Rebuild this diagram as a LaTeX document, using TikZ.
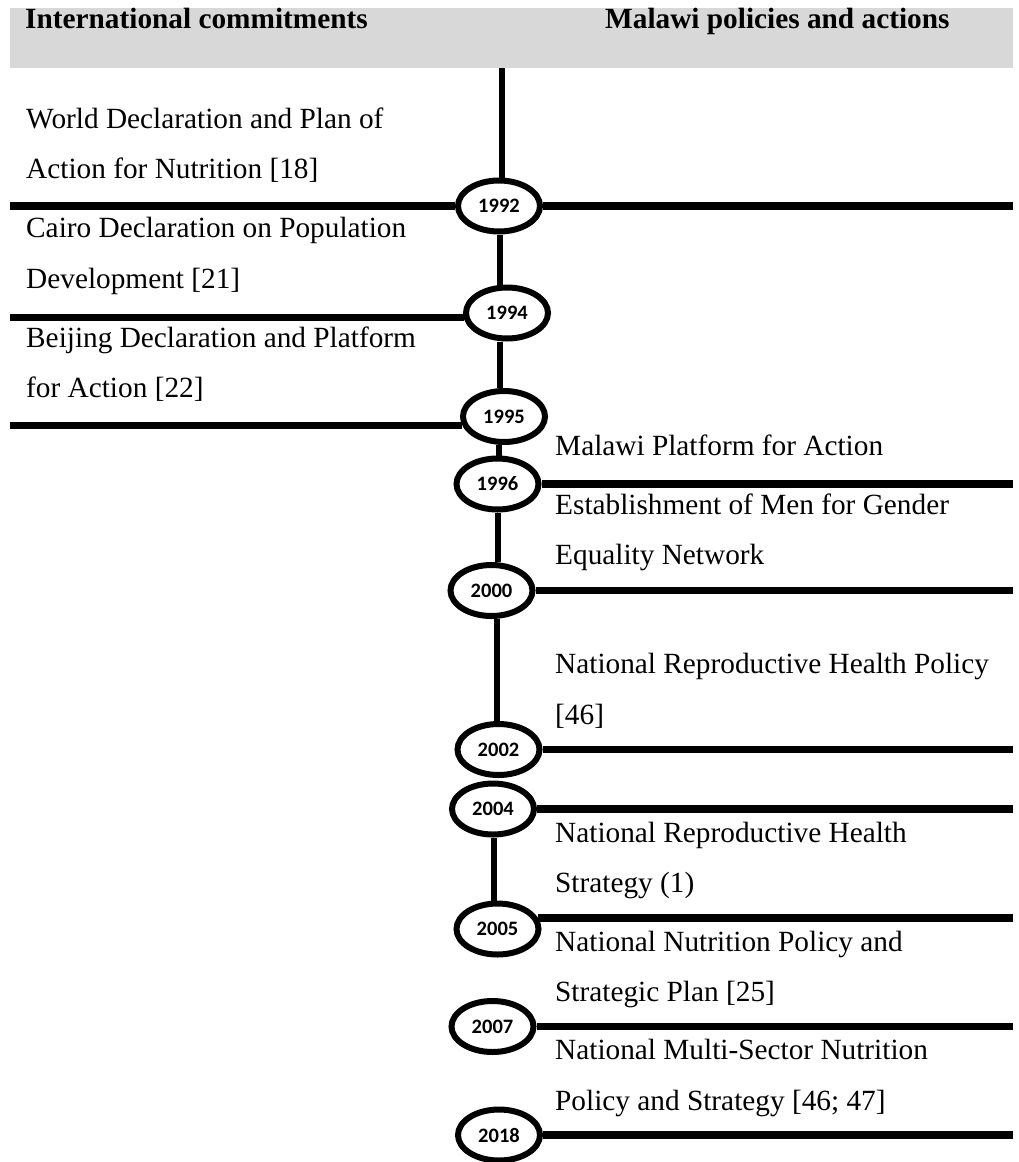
\documentclass[tikz,border=0pt]{standalone}
\usepackage{fontspec}
\setmainfont{Liberation Serif}
\newfontfamily\yearfont{Carlito}
\usetikzlibrary{shapes.geometric}
\definecolor{headgray}{RGB}{216,216,216}
\begin{document}
\begin{tikzpicture}[x=1pt,y=-1pt,
  txt/.style={anchor=base west, inner sep=0pt, font=\fontsize{29.3}{35}\selectfont},
  head/.style={anchor=base west, inner sep=0pt, font=\fontsize{29.3}{35}\selectfont\bfseries},
  yr/.style={ellipse, draw, line width=6pt, minimum width=82pt, minimum height=51pt, inner sep=0pt, fill=white, font=\yearfont\bfseries\fontsize{20.5}{24}\selectfont},
  hline/.style={line width=7.5pt},
  vline/.style={line width=6pt}]
\useasboundingbox (0,0) rectangle (1019,1162);
% header band
\fill[headgray] (10,8) rectangle (1013,68);
\node[head] (hl) at (25,28) {International commitments};
\node[head] (hr) at (605,28) {Malawi policies and actions};
% free ends
\coordinate (lft) at (10,0);
\coordinate (rgt) at (1013,0);
\coordinate (top) at (502,68);
% year ellipses
\node[yr] (e1992) at (499,206) {1992};
\node[yr] (e1994) at (507,313) {1994};
\node[yr] (e1995) at (504,416.5) {1995};
\node[yr] (e1996) at (497.5,484) {1996};
\node[yr] (e2000) at (491.5,590.5) {2000};
\node[yr] (e2002) at (498.5,749.5) {2002};
\node[yr] (e2004) at (493,809) {2004};
\node[yr] (e2005) at (497.5,929) {2005};
\node[yr] (e2007) at (492.5,1026.5) {2007};
\node[yr] (e2018) at (499,1135) {2018};
% vertical connectors
\draw[vline] (top) -- ([xshift=3pt]e1992.north);
\draw[vline] ([xshift=1pt]e1992.south) -- ([xshift=-7pt]e1994.north);
\draw[vline] ([xshift=-7pt]e1994.south) -- ([xshift=-4pt]e1995.north);
\draw[vline] ([xshift=-5pt]e1995.south) -- ([xshift=1.5pt]e1996.north);
\draw[vline] ([xshift=0.5pt]e1996.south) -- ([xshift=6.5pt]e2000.north);
\draw[vline] ([xshift=5.5pt]e2000.south) -- ([xshift=-1.5pt]e2002.north);
\draw[vline] ([xshift=1pt]e2004.south) -- ([xshift=-3.5pt]e2005.north);
% horizontal lines (left)
\draw[hline] (e1992.west) -- (e1992.west -| lft);
\draw[hline] (e1994.186) -- (e1994.186 -| lft);
\draw[hline] (e1995.192) -- (e1995.192 -| lft);
% horizontal lines (right)
\draw[hline] (e1992.east) -- (e1992.east -| rgt);
\draw[hline] (e1996.east) -- (e1996.east -| rgt);
\draw[hline] (e2000.east) -- (e2000.east -| rgt);
\draw[hline] (e2002.east) -- (e2002.east -| rgt);
\draw[hline] (e2004.east) -- (e2004.east -| rgt);
\draw[hline] (e2005.15) -- (e2005.15 -| rgt);
\draw[hline] (e2007.east) -- (e2007.east -| rgt);
\draw[hline] (e2018.east) -- (e2018.east -| rgt);
% left texts
\node[txt] (t1a) at (26,128) {World Declaration and Plan of};
\node[txt] (t1b) at (26,178) {Action for Nutrition [18]};
\node[txt] (t2a) at (26,237) {Cairo Declaration on Population};
\node[txt] (t2b) at (26,288) {Development [21]};
\node[txt] (t3a) at (26,347) {Beijing Declaration and Platform};
\node[txt] (t3b) at (26,397) {for Action [22]};
% right texts
\node[txt] (r1a) at (555,455) {Malawi Platform for Action};
\node[txt] (r2a) at (555,514) {Establishment of Men for Gender};
\node[txt] (r2b) at (555,564) {Equality Network};
\node[txt] (r3a) at (555,673) {National Reproductive Health Policy};
\node[txt] (r3b) at (555,724) {[46]};
\node[txt] (r4a) at (555,842) {National Reproductive Health};
\node[txt] (r4b) at (555,892) {Strategy (1)};
\node[txt] (r5a) at (555,951) {National Nutrition Policy and};
\node[txt] (r5b) at (555,1001) {Strategic Plan [25]};
\node[txt] (r6a) at (555,1059) {National Multi-Sector Nutrition};
\node[txt] (r6b) at (555,1110) {Policy and Strategy [46; 47]};
\end{tikzpicture}
\end{document}
